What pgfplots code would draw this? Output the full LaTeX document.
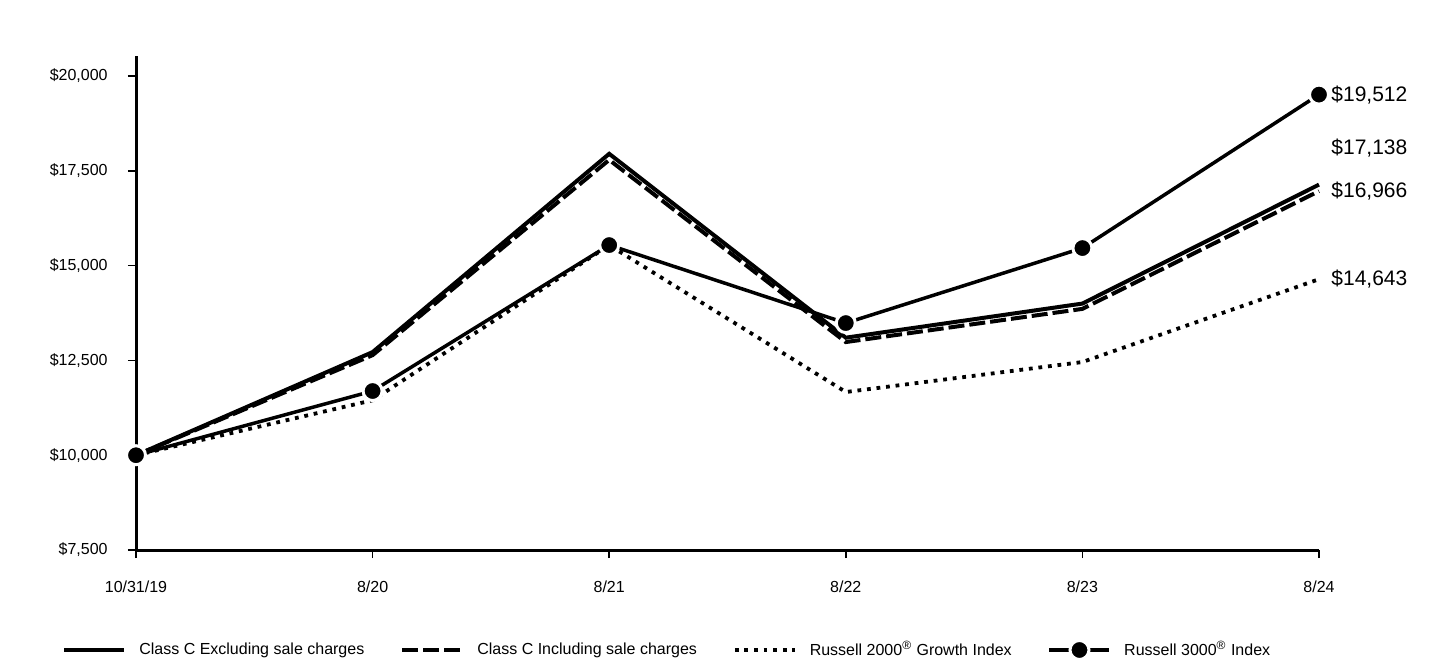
\documentclass[border=0pt]{standalone}
\usepackage{pgfplots}
\pgfplotsset{compat=1.18}
\usepackage{fontspec}
\setmainfont{Liberation Sans}
\begin{document}
\begin{tikzpicture}
\path[use as bounding box] (0,0) rectangle (720pt,330pt);
\begin{axis}[
  at={(68pt,55pt)}, anchor=south west,
  scale only axis, width=591.5pt, height=247pt,
  xmin=0, xmax=5, ymin=7500, ymax=20530,
  scaled ticks=false,
  axis x line=bottom, axis y line=left,
  axis line style={-, line width=1.5pt},
  tick align=outside, major tick length=4pt,
  tick style={line width=0.8pt, black},
  xtick={0,1,2,3,4,5},
  xticklabels={10/31/19,8/20,8/21,8/22,8/23,8/24},
  ytick={7500,10000,12500,15000,17500,20000},
  yticklabels={{\$7,500},{\$10,000},{\$12,500},{\$15,000},{\$17,500},{\$20,000}},
  ticklabel style={font=\fontsize{8pt}{9.6pt}\selectfont},
  xticklabel style={anchor=north, inner sep=0pt, yshift=-11pt},
  yticklabel style={anchor=east, inner sep=0pt, xshift=-10pt},
  clip=false,
  legend columns=4,
  legend style={draw=none, fill=none, inner sep=0pt,
    at={(-0.0626,-0.2024)}, anchor=west,
    font=\fontsize{8pt}{9.6pt}\selectfont,
    /tikz/every even column/.append style={column sep=16pt},
    /tikz/every odd column/.append style={column sep=4.5pt}},
  legend image code/.code={\draw[mark repeat=2,mark phase=2,#1] plot coordinates {(0pt,0pt) (15pt,0pt) (30pt,0pt)};},
]
\addplot[black, line width=2pt] coordinates {(0,10000) (1,12720) (2,17950) (3,13100) (4,14000) (5,17138)};
\addlegendentry{Class C Excluding sale charges}
\addplot[black, line width=2pt, dash pattern=on 8pt off 2.5pt] coordinates {(0,10000) (1,12640) (2,17790) (3,12985) (4,13860) (5,16966)};
\addlegendentry{Class C Including sale charges}
\addplot[black, line width=1.9pt, dash pattern=on 1.9pt off 2.9pt] coordinates {(0,10000) (1,11450) (2,15540) (3,11667) (4,12458) (5,14643)};
\addlegendentry{Russell 2000\textsuperscript{\textregistered} Growth Index}
\addplot[black, line width=1.75pt, mark=*, mark size=4.75pt, mark options={solid, fill=black, draw=white, line width=1.5pt}] coordinates {(0,10000) (1,11693) (2,15543) (3,13486) (4,15464) (5,19512)};
\addlegendentry{Russell 3000\textsuperscript{\textregistered} Index}
\node[anchor=west, inner sep=0pt, font=\fontsize{10.5pt}{12pt}\selectfont] at (axis cs:5,19512) {\hspace{6pt}\$19,512};
\node[anchor=west, inner sep=0pt, font=\fontsize{10.5pt}{12pt}\selectfont] at (axis cs:5,18100) {\hspace{6pt}\$17,138};
\node[anchor=west, inner sep=0pt, font=\fontsize{10.5pt}{12pt}\selectfont] at (axis cs:5,16966) {\hspace{6pt}\$16,966};
\node[anchor=west, inner sep=0pt, font=\fontsize{10.5pt}{12pt}\selectfont] at (axis cs:5,14643) {\hspace{6pt}\$14,643};
\end{axis}
\end{tikzpicture}
\end{document}
